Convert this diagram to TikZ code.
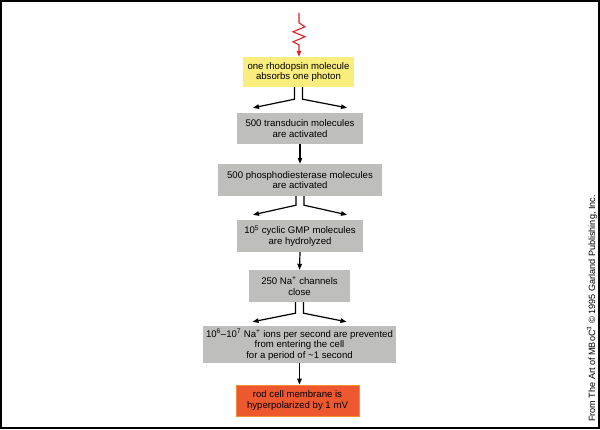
\documentclass[tikz,border=0pt]{standalone}
\usepackage{fontspec}
\setmainfont{Liberation Sans}
\usepackage{tikz}
\usepackage{xcolor}
\usetikzlibrary{arrows.meta}
\definecolor{boxyellow}{RGB}{249,237,125}
\definecolor{boxgray}{RGB}{190,190,188}
\definecolor{boxred}{RGB}{237,88,46}
\definecolor{boxorange}{RGB}{246,140,52}
\definecolor{photonred}{RGB}{228,32,38}
\tikzset{%
  tipA/.tip={Triangle[length=6pt,width=4.5pt]},
  stepbox/.style={inner sep=0pt, align=center, font=\fontsize{9.6}{10.6}\selectfont},
  graybox/.style={stepbox, fill=boxgray},
  arr/.style={line width=1.2pt, -tipA},
}

\begin{document}
\begin{tikzpicture}[x=1pt,y=1pt]
	\useasboundingbox (0,0) rectangle (600,429);
	\draw[line width=2pt] (1,1) rectangle (599,428);
	\node[stepbox, fill=boxyellow, minimum width=111pt, minimum height=30pt] (rhod) at (298.5,357) {one rhodopsin molecule\\absorbs one photon};
	\node[graybox, minimum width=126pt, minimum height=31pt] (trans) at (300,300.5) {500 transducin molecules\\are activated};
	\node[graybox, minimum width=164pt, minimum height=32pt] (pde) at (300,249) {500 phosphodiesterase molecules\\are activated};
	\node[graybox, minimum width=126pt, minimum height=32pt] (cgmp) at (300,193) {10\textsuperscript{5} cyclic GMP molecules\\are hydrolyzed};
	\node[graybox, minimum width=101pt, minimum height=32pt] (chan) at (299.5,143) {250 Na\textsuperscript{+} channels\\close};
	\node[graybox, minimum width=193pt, minimum height=37pt] (ions) at (299.5,84.5) {10\textsuperscript{6}--10\textsuperscript{7} Na\textsuperscript{+} ions per second are prevented\\from entering the cell\\for a period of \textasciitilde1 second};
	\node[stepbox, fill=boxred, draw=boxorange, line width=0.8pt, minimum width=123pt, minimum height=31pt] (rod) at (297.5,28.5) {rod cell membrane is\\hyperpolarized by 1 mV};
	\coordinate (light) at ([xshift=0.5pt,yshift=44pt]rhod.north);
	\draw[line width=1.1pt, photonred, -tipA] (light) -- ++(0,-10) -- ++(6,-4) -- ++(-12,-5) -- ++(12,-5) -- ++(-12,-5) -- ++(6,-3) -- ([xshift=0.5pt]rhod.north);
	\draw[arr] ([xshift=-4pt]rhod.south) -- ++(0,-12) -- ([xshift=-47pt,yshift=5pt]trans.north);
	\draw[arr] ([xshift=4pt]rhod.south) -- ++(0,-12) -- ([xshift=47pt,yshift=5pt]trans.north);
	\draw[arr] (trans.south) -- (pde.north);
	\draw[arr] ([xshift=-4pt]pde.south) -- ++(0,-9) -- ([xshift=-47pt,yshift=5pt]cgmp.north);
	\draw[arr] ([xshift=4pt]pde.south) -- ++(0,-9) -- ([xshift=47pt,yshift=5pt]cgmp.north);
	\draw[arr] (cgmp.south) -- (chan.north);
	\draw[arr] ([xshift=-4pt]chan.south) -- ++(0,-11) -- ([xshift=-47pt,yshift=4pt]ions.north);
	\draw[arr] ([xshift=4pt]chan.south) -- ++(0,-11) -- ([xshift=47pt,yshift=4pt]ions.north);
	\draw[arr] (ions.south) -- (ions.south |- rod.north);
	\node[rotate=90, font=\fontsize{9.1}{9.5}\selectfont] (credit) at (592,120.5) {From The Art of MBoC\textsuperscript{3} \textcopyright\ 1995 Garland Publishing, Inc.};
\end{tikzpicture}
\end{document}
